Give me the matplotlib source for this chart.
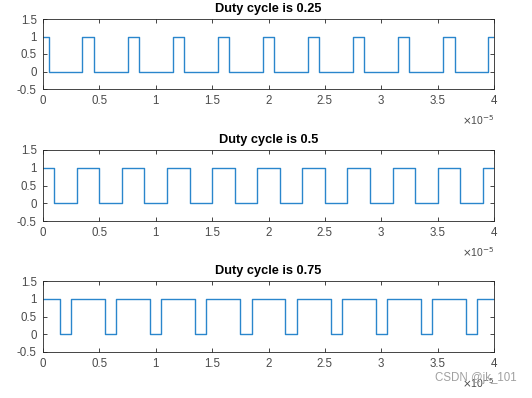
import matplotlib
matplotlib.use("Agg")
import matplotlib.pyplot as plt

plt.rcParams['font.family'] = ['Liberation Sans', 'DejaVu Sans']

# time breakpoints (units of 1e-5 s) and signal levels (steps-post)
t_025 = [0, 0.05, 0.35, 0.45, 0.75, 0.85, 1.15, 1.25, 1.55, 1.65, 1.95, 2.05,
         2.35, 2.45, 2.75, 2.85, 3.15, 3.25, 3.55, 3.65, 3.95, 4.0]
y_025 = [1, 0, 1, 0, 1, 0, 1, 0, 1, 0, 1, 0, 1, 0, 1, 0, 1, 0, 1, 0, 1, 1]

t_050 = [0, 0.1, 0.3, 0.5, 0.7, 0.9, 1.1, 1.3, 1.5, 1.7, 1.9, 2.1,
         2.3, 2.5, 2.7, 2.9, 3.1, 3.3, 3.5, 3.7, 3.9, 4.0]
y_050 = [1, 0, 1, 0, 1, 0, 1, 0, 1, 0, 1, 0, 1, 0, 1, 0, 1, 0, 1, 0, 1, 1]

t_075 = [0, 0.15, 0.25, 0.55, 0.65, 0.95, 1.05, 1.35, 1.45, 1.75, 1.85, 2.15,
         2.25, 2.55, 2.65, 2.95, 3.05, 3.35, 3.45, 3.75, 3.85, 4.0]
y_075 = [1, 0, 1, 0, 1, 0, 1, 0, 1, 0, 1, 0, 1, 0, 1, 0, 1, 0, 1, 0, 1, 1]

titles = ['Duty cycle is 0.25', 'Duty cycle is 0.5', 'Duty cycle is 0.75']
xticks = [0, 0.5, 1, 1.5, 2, 2.5, 3, 3.5, 4]
xticklabels = ['0', '0.5', '1', '1.5', '2', '2.5', '3', '3.5', '4']
yticks = [-0.5, 0, 0.5, 1, 1.5]
yticklabels = ['-0.5', '0', '0.5', '1', '1.5']

W, H = 532, 398
fig = plt.figure(figsize=(W / 100, H / 100), dpi=100)

# axes pixel boxes: (left, top, right, bottom)
boxes = [(43, 19, 494, 89), (43, 150, 494, 221), (43, 281, 494, 352)]
series = [(t_025, y_025), (t_050, y_050), (t_075, y_075)]

gray = '#262626'
for (l, t, r, b), (tx, ty), title in zip(boxes, series, titles):
    ax = fig.add_axes([l / W, 1 - b / H, (r - l) / W, (b - t) / H])
    ax.plot(tx, ty, drawstyle='steps-post', color='#2a86cc', lw=1.0)
    ax.set_xlim(0, 4)
    ax.set_ylim(-0.5, 1.5)
    ax.set_xticks(xticks)
    ax.set_xticklabels(xticklabels)
    ax.set_yticks(yticks)
    ax.set_yticklabels(yticklabels)
    ax.tick_params(direction='in', top=True, right=True, length=3,
                   width=0.6, colors=gray, labelsize=8.3, labelcolor='#4a4a4a',
                   pad=4.5)
    for s in ax.spines.values():
        s.set_color(gray)
        s.set_linewidth(0.6)
    ax.set_title(title, fontsize=9.2, fontweight='bold', pad=5, color='black')
    ax.text(1.0, -0.34, r'$\times$10$^{-5}$', transform=ax.transAxes,
            ha='right', va='top', fontsize=7.5, color='#4a4a4a')

fig.text(517 / W, 1 - 378 / H, 'CSDN @jk_101', ha='right', va='center',
         fontsize=8.3, color='#a0a0a0')

fig.savefig('out.png', dpi=100)
